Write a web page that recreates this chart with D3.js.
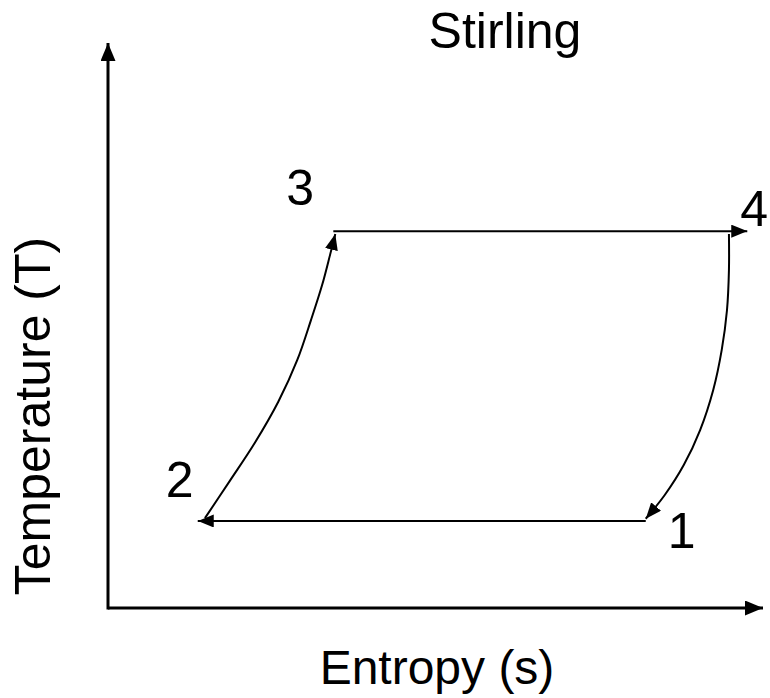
<!DOCTYPE html>
<html>
<head>
<meta charset="utf-8">
<script src="https://cdn.jsdelivr.net/npm/d3@7"></script>
<style>
  body { margin: 0; background: #fff; }
  text { font-family: "Liberation Sans", Arial, sans-serif; fill: #000; }
</style>
</head>
<body>
<div id="svgContainer"></div>
<script>
// state points of the cycle (entropy s, temperature T), arbitrary units
var stateLabels = ["1", "2", "3", "4"];
var stateS = [8.21, 1.37, 3.44, 9.76];
var stateT = [1.54, 1.54, 6.67, 6.67];

// isochoric curves
var curve23S = [1.48, 1.86, 2.24, 2.60, 2.89, 3.10, 3.27, 3.39, 3.47];
var curve23T = [1.59, 2.25, 2.92, 3.65, 4.39, 5.10, 5.72, 6.25, 6.62];
var curve41S = [9.48, 9.48, 9.45, 9.37, 9.24, 9.04, 8.79, 8.50, 8.21];
var curve41T = [6.62, 5.98, 5.27, 4.57, 3.86, 3.15, 2.53, 2.00, 1.58];

var title = "Stirling";
var xLabel = "Entropy (s)";
var yLabel = "Temperature (T)";

var width = 770;
var height = 698;

var svg = d3.select("#svgContainer")
  .append("svg").attr("width", width).attr("height", height);

var x = d3.scaleLinear().domain([0, 10]).range([108, 763]);
var y = d3.scaleLinear().domain([0, 10]).range([608, 43]);

function marker(id, len, wid) {
  svg.select("defs").append("marker")
    .attr("id", id)
    .attr("markerUnits", "userSpaceOnUse")
    .attr("viewBox", "0 0 " + len + " " + wid)
    .attr("refX", len)
    .attr("refY", wid / 2)
    .attr("markerWidth", len)
    .attr("markerHeight", wid)
    .attr("orient", "auto")
    .append("path")
    .attr("d", "M0,0L" + len + "," + (wid / 2) + "L0," + wid + "Z")
    .attr("fill", "#000");
}

svg.append("defs");
marker("axisArrow", 18, 15);
marker("pathArrow", 16, 13);

// axes
svg.append("line")
  .attr("x1", x(0)).attr("y1", y(0))
  .attr("x2", x(10)).attr("y2", y(0))
  .style("stroke", "#000").style("stroke-width", 3)
  .attr("marker-end", "url(#axisArrow)");
svg.append("line")
  .attr("x1", x(0)).attr("y1", y(0) + 1.5)
  .attr("x2", x(0)).attr("y2", y(10))
  .style("stroke", "#000").style("stroke-width", 3)
  .attr("marker-end", "url(#axisArrow)");

var line = d3.line()
  .x(function(d) { return x(d[0]); })
  .y(function(d) { return y(d[1]); })
  .curve(d3.curveCatmullRom);

function path(sArr, tArr) {
  var pts = sArr.map(function(s, i) { return [s, tArr[i]]; });
  svg.append("path")
    .attr("d", line(pts))
    .attr("fill", "none")
    .style("stroke", "#000")
    .style("stroke-width", 2)
    .attr("marker-end", "url(#pathArrow)");
}

// 1 -> 2, 2 -> 3, 3 -> 4, 4 -> 1
path([stateS[0], stateS[1]], [stateT[0], stateT[1]]);
path(curve23S, curve23T);
path([stateS[2], stateS[3]], [stateT[2], stateT[3]]);
path(curve41S, curve41T);

// state labels
var labelOffsets = [[22, 27], [-32, -24], [-47, -26], [-7, -5]];
stateLabels.forEach(function(lab, i) {
  svg.append("text")
    .attr("x", x(stateS[i]) + labelOffsets[i][0])
    .attr("y", y(stateT[i]) + labelOffsets[i][1])
    .style("font-size", "50px")
    .text(lab);
});

svg.append("text")
  .attr("x", 505).attr("y", 48)
  .attr("text-anchor", "middle")
  .style("font-size", "50px")
  .text(title);

svg.append("text")
  .attr("x", 437).attr("y", 684)
  .attr("text-anchor", "middle")
  .style("font-size", "48px")
  .text(xLabel);

svg.append("text")
  .attr("transform", "translate(50,416) rotate(-90)")
  .attr("text-anchor", "middle")
  .style("font-size", "50px")
  .text(yLabel);
</script>
</body>
</html>
